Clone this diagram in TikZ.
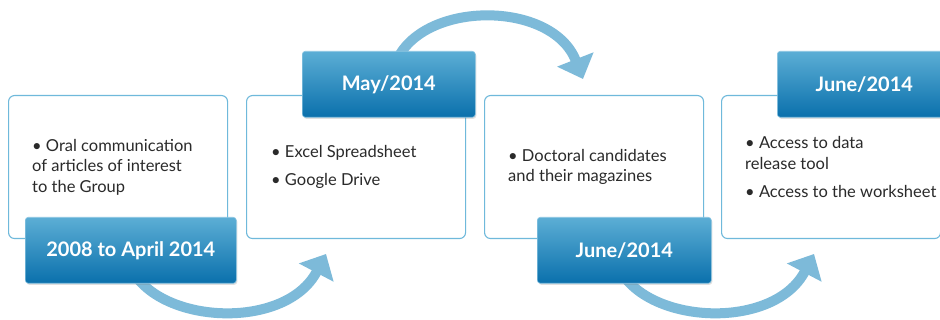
\documentclass[tikz,border=0pt]{standalone}
\usepackage{fontspec}
\setmainfont{Lato}
\usetikzlibrary{arrows.meta,backgrounds,shadows}
\definecolor{arrowblue}{HTML}{7DBAD9}
\definecolor{boxline}{HTML}{6FB9DB}
\definecolor{labtop}{HTML}{5CAED5}
\definecolor{labbot}{HTML}{0A70AC}
\definecolor{txtgray}{HTML}{2A2A2A}
\tikzset{
 infobox/.style={draw=boxline, line width=1.1pt, rounded corners=6pt, fill=white,
   minimum width=219pt, minimum height=143pt, inner sep=0pt, anchor=north west},
 datelabel/.style={rounded corners=3pt, top color=labtop, bottom color=labbot,
   draw=labtop!70!white, line width=0.6pt, minimum height=66pt, inner sep=0pt,
   anchor=north west, text=white, font=\fontsize{20}{24}\selectfont\bfseries,
   drop shadow={shadow xshift=1pt, shadow yshift=-1.5pt, opacity=0.25}},
 itemtext/.style={anchor=west, align=left, inner sep=0pt, text=txtgray,
   font=\fontsize{16.5}{20.5}\selectfont},
 flowarrow/.style={draw=arrowblue, line width=10pt, -{Triangle[length=21pt,width=38pt]}},
}
\begin{document}
\begin{tikzpicture}[x=1pt,y=-1pt]
\path[use as bounding box, clip] (0,0) rectangle (940,320);
% boxes
\node[infobox] (b1) at (8,95) {};
\node[infobox] (b2) at (246,95) {};
\node[infobox] (b3) at (484,95) {};
\node[infobox] (b4) at (721,95) {};
% texts
\node[itemtext] (t1) at ([xshift=24pt]b1.west) {\textbullet\ Oral communication\\of articles of interest\\to the Group};
\node[itemtext] (t2) at ([xshift=25pt]b2.west) {\textbullet\ Excel Spreadsheet\\[8pt]\textbullet\ Google Drive};
\node[itemtext] (t3) at ([xshift=24pt]b3.west) {\textbullet\ Doctoral candidates\\and their magazines};
\node[itemtext] (t4) at ([xshift=24pt]b4.west) {\textbullet\ Access to data\\release tool\\[8pt]\textbullet\ Access to the worksheet};
% labels
\node[datelabel, minimum width=211pt] (l1) at (25,217) {2008 to April 2014};
\node[datelabel, minimum width=173pt] (l2) at (302,51) {May/2014};
\node[datelabel, minimum width=174pt] (l3) at (537,217) {June/2014};
\node[datelabel, minimum width=174pt] (l4) at (777,51) {June/2014};
% arrow endpoints
\coordinate (a1s) at (132,270);
\coordinate (a1e) at (326,254);
\coordinate (a2s) at (396,62);
\coordinate (a2e) at (583,79);
\coordinate (a3s) at (620,270);
\coordinate (a3e) at (814,254);
\begin{scope}[on background layer]
\fill[white] (0,0) rectangle (940,320);
\draw[flowarrow] (a1s) .. controls ([shift={(30,55)}]a1s) and ([shift={(-40,76)}]a1e) .. (a1e);
\draw[flowarrow] (a2s) .. controls ([shift={(26,-62)}]a2s) and ([shift={(-31,-79)}]a2e) .. (a2e);
\draw[flowarrow] (a3s) .. controls ([shift={(30,55)}]a3s) and ([shift={(-40,76)}]a3e) .. (a3e);
\end{scope}
\end{tikzpicture}
\end{document}
